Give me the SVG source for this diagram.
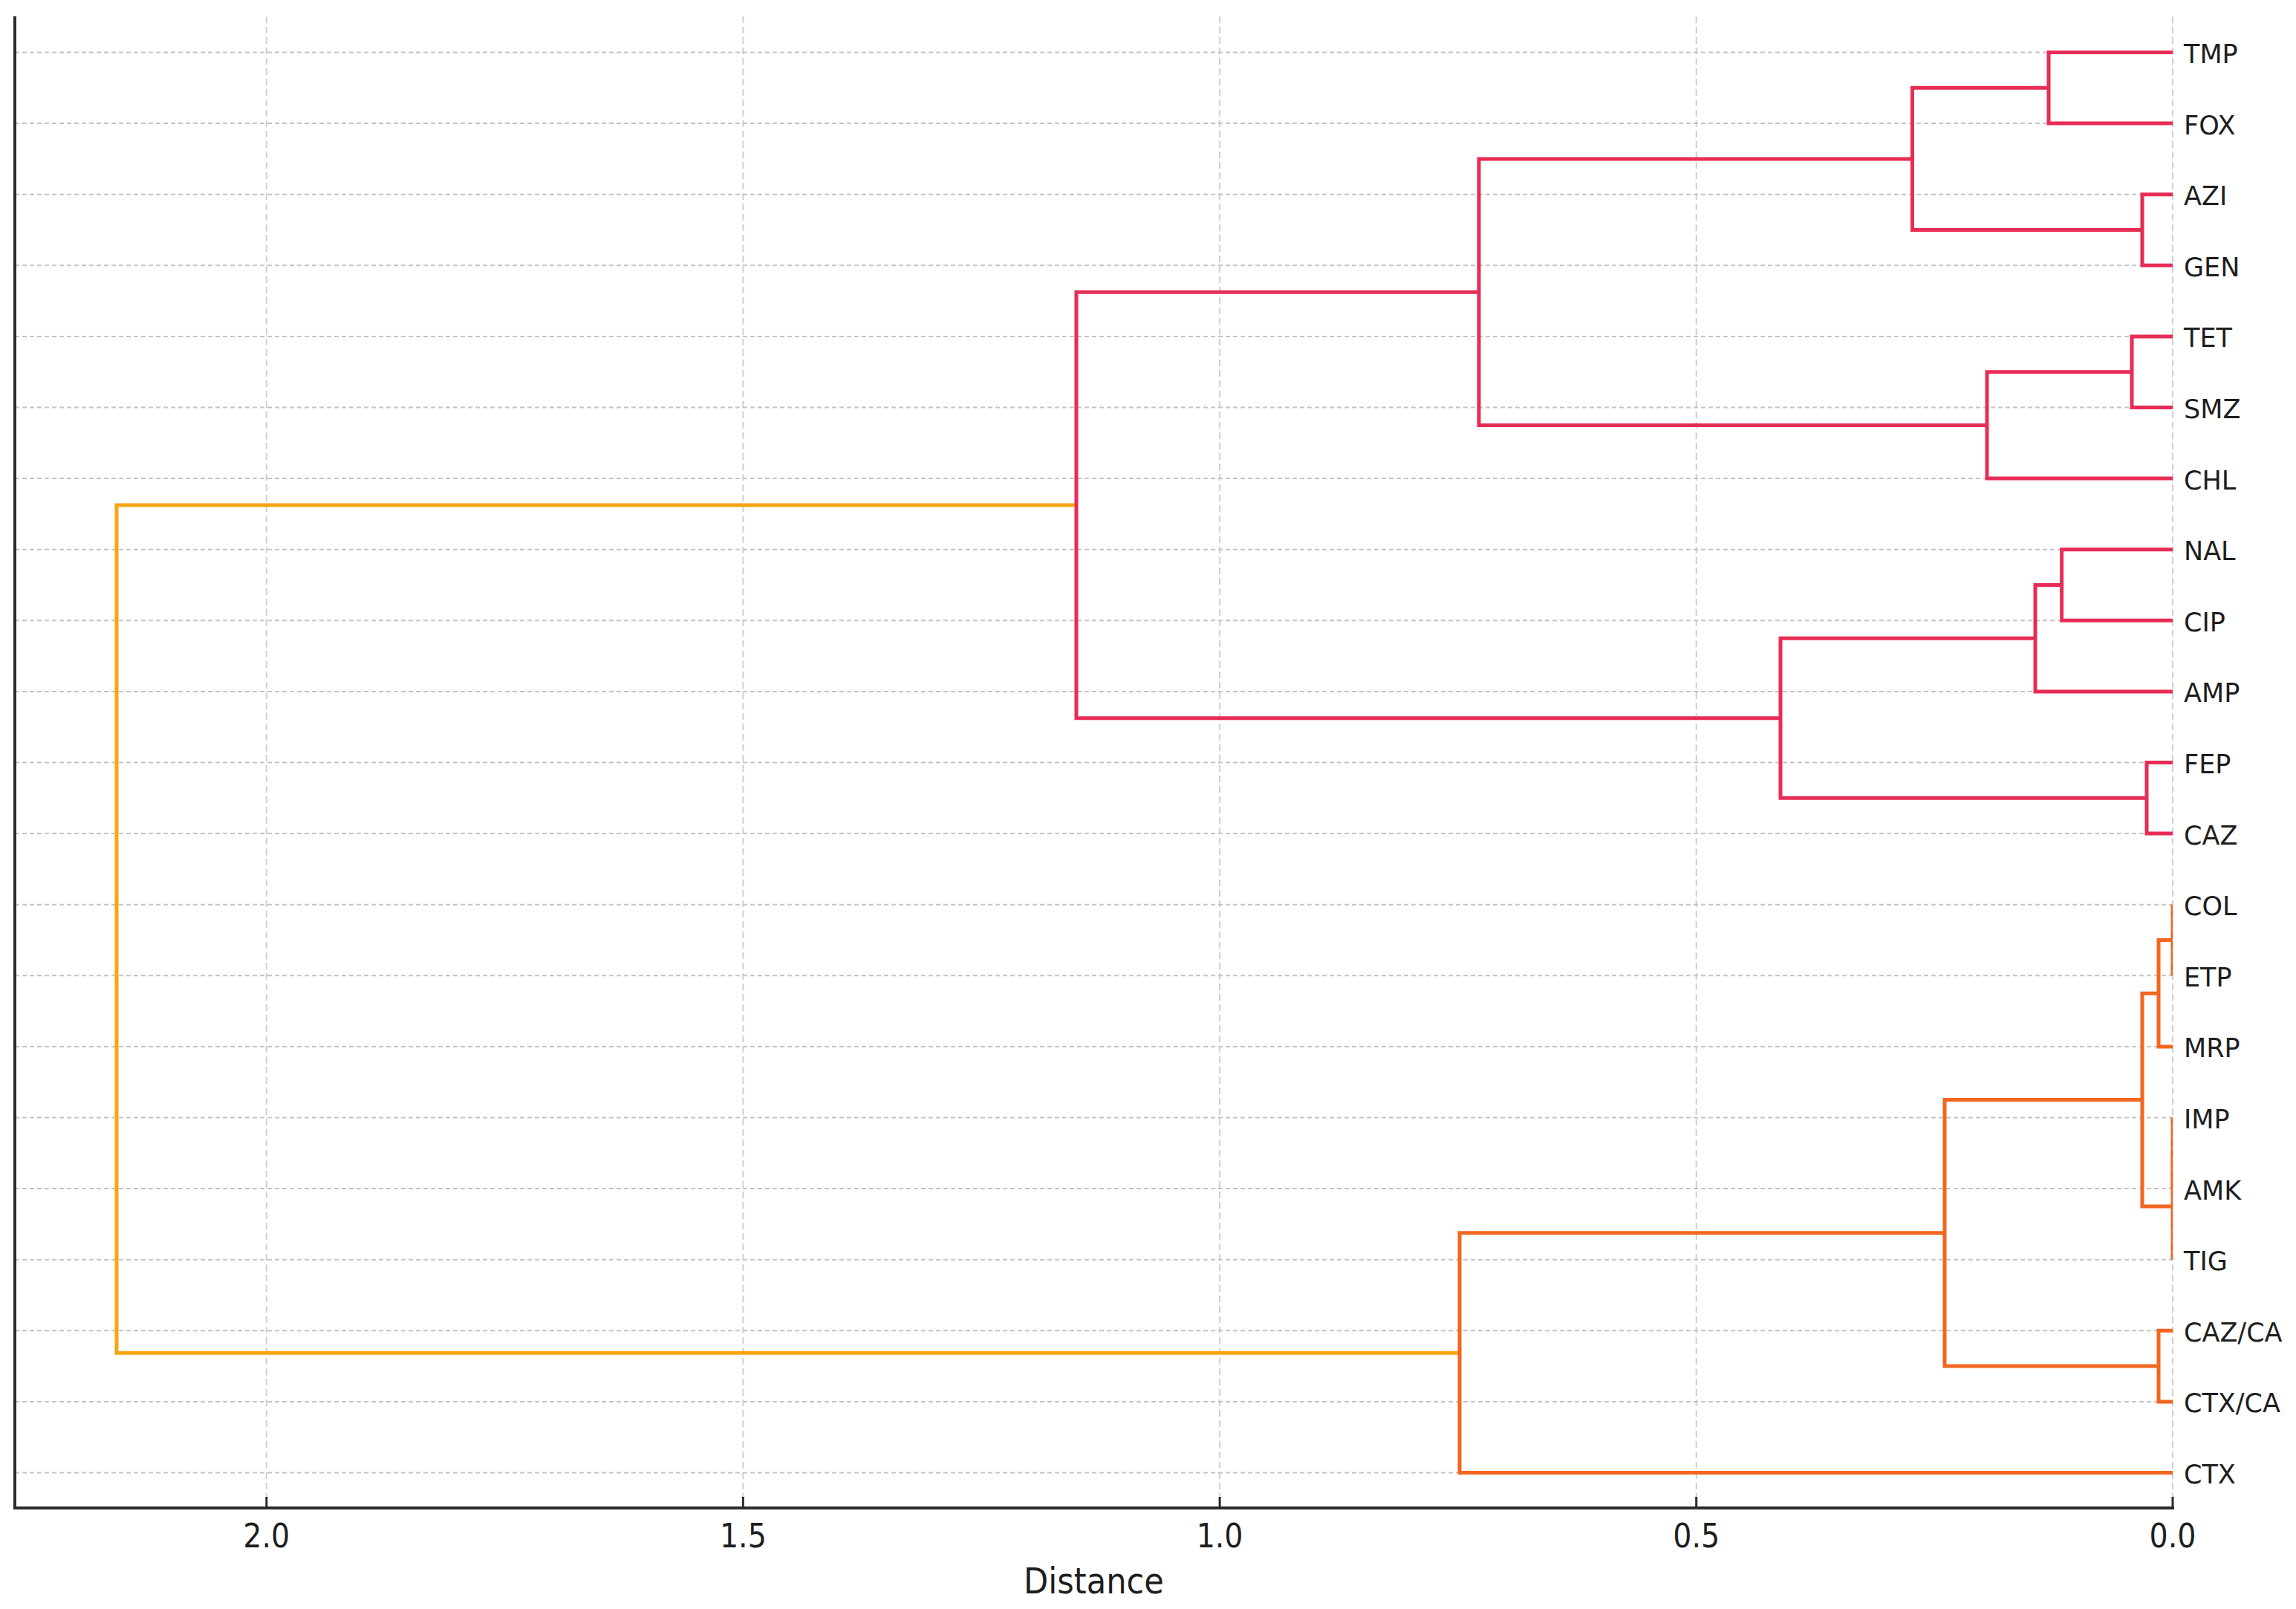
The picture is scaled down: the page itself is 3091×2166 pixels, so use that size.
<svg xmlns="http://www.w3.org/2000/svg" width="3091" height="2166" viewBox="0 0 3091 2166">
  <defs>
    <clipPath id="axclip"><rect x="20" y="22" width="2905" height="2008"/></clipPath>
    <style>
      .hgrid { stroke: #c4c4c4; stroke-width: 2; stroke-dasharray: 6 4; fill: none; }
      .vgrid { stroke: #cfcfcf; stroke-width: 2; stroke-dasharray: 9 5; fill: none; }
      .spine { stroke: #2b2b2b; stroke-width: 4; fill: none; }
      .tick { stroke: #2b2b2b; stroke-width: 3; }
      .link { fill: none; stroke-width: 5; stroke-linejoin: miter; stroke-linecap: butt; }
      .red { stroke: #e72d55; }
      .orange { stroke: #f2661f; }
      .gold { stroke: #f7a511; }
      .leaf { font-family: "DejaVu Sans", "Liberation Sans", sans-serif; font-size: 35px; fill: #1e1e1e; dominant-baseline: central; }
      .ticklbl { font-family: "DejaVu Sans Condensed", "DejaVu Sans", sans-serif; font-stretch: condensed; font-size: 44px; fill: #1e1e1e; text-anchor: middle; }
      .axlbl { font-family: "DejaVu Sans Condensed", "DejaVu Sans", sans-serif; font-stretch: condensed; font-size: 48px; fill: #1e1e1e; text-anchor: middle; }
    </style>
  </defs>
  <rect width="3091" height="2166" fill="#ffffff"/>

  <g id="grid">
    <line class="vgrid" x1="358.8" y1="22" x2="358.8" y2="2030"/>
    <line class="vgrid" x1="1000.4" y1="22" x2="1000.4" y2="2030"/>
    <line class="vgrid" x1="1642.1" y1="22" x2="1642.1" y2="2030"/>
    <line class="vgrid" x1="2283.7" y1="22" x2="2283.7" y2="2030"/>
    <line class="vgrid" x1="2925" y1="22" x2="2925" y2="2030"/>
    <line class="hgrid" x1="20" y1="70.5" x2="2925" y2="70.5"/>
    <line class="hgrid" x1="20" y1="166.1" x2="2925" y2="166.1"/>
    <line class="hgrid" x1="20" y1="261.7" x2="2925" y2="261.7"/>
    <line class="hgrid" x1="20" y1="357.3" x2="2925" y2="357.3"/>
    <line class="hgrid" x1="20" y1="452.9" x2="2925" y2="452.9"/>
    <line class="hgrid" x1="20" y1="548.5" x2="2925" y2="548.5"/>
    <line class="hgrid" x1="20" y1="644.1" x2="2925" y2="644.1"/>
    <line class="hgrid" x1="20" y1="739.7" x2="2925" y2="739.7"/>
    <line class="hgrid" x1="20" y1="835.3" x2="2925" y2="835.3"/>
    <line class="hgrid" x1="20" y1="930.9" x2="2925" y2="930.9"/>
    <line class="hgrid" x1="20" y1="1026.5" x2="2925" y2="1026.5"/>
    <line class="hgrid" x1="20" y1="1122.1" x2="2925" y2="1122.1"/>
    <line class="hgrid" x1="20" y1="1217.7" x2="2925" y2="1217.7"/>
    <line class="hgrid" x1="20" y1="1313.3" x2="2925" y2="1313.3"/>
    <line class="hgrid" x1="20" y1="1408.9" x2="2925" y2="1408.9"/>
    <line class="hgrid" x1="20" y1="1504.5" x2="2925" y2="1504.5"/>
    <line class="hgrid" x1="20" y1="1600.1" x2="2925" y2="1600.1"/>
    <line class="hgrid" x1="20" y1="1695.7" x2="2925" y2="1695.7"/>
    <line class="hgrid" x1="20" y1="1791.3" x2="2925" y2="1791.3"/>
    <line class="hgrid" x1="20" y1="1886.9" x2="2925" y2="1886.9"/>
    <line class="hgrid" x1="20" y1="1982.5" x2="2925" y2="1982.5"/>
  </g>

  <g id="connectors" clip-path="url(#axclip)">
    <path class="link gold" d="M1449,679.95 H157 V1821.2 H1965"/>
    <path class="link red" d="M2925,70.5 H2758 V166.1 H2925"/>
    <path class="link red" d="M2925,261.7 H2884 V357.3 H2925"/>
    <path class="link red" d="M2758,118.3 H2574.5 V309.5 H2884"/>
    <path class="link red" d="M2925,452.9 H2870 V548.5 H2925"/>
    <path class="link red" d="M2870,500.7 H2675 V644.1 H2925"/>
    <path class="link red" d="M2574.5,213.9 H1991 V572.4 H2675"/>
    <path class="link red" d="M2925,739.7 H2775.6 V835.3 H2925"/>
    <path class="link red" d="M2775.6,787.5 H2740 V930.9 H2925"/>
    <path class="link red" d="M2925,1026.5 H2890 V1122.1 H2925"/>
    <path class="link red" d="M2740,859.2 H2397 V1074.3 H2890"/>
    <path class="link red" d="M1991,393.15 H1449 V966.75 H2397"/>
    <path class="link orange" d="M2925,1217.7 V1313.3"/>
    <path class="link orange" d="M2925,1265.5 H2906 V1408.9 H2925"/>
    <path class="link orange" d="M2925,1504.5 V1600.1"/>
    <path class="link orange" d="M2925,1552.3 V1695.7"/>
    <path class="link orange" d="M2906,1337.2 H2884 V1623.95 H2925"/>
    <path class="link orange" d="M2925,1791.3 H2906 V1886.9 H2925"/>
    <path class="link orange" d="M2884,1480.6 H2618 V1839.1 H2906"/>
    <path class="link orange" d="M2618,1659.85 H1965 V1982.5 H2925"/>
  </g>

  <g id="axes">
    <line class="spine" x1="20" y1="22" x2="20" y2="2032"/>
    <line class="spine" x1="18" y1="2030" x2="2927" y2="2030"/>
    <line class="tick" x1="358.8" y1="2015" x2="358.8" y2="2030"/>
    <line class="tick" x1="1000.4" y1="2015" x2="1000.4" y2="2030"/>
    <line class="tick" x1="1642.1" y1="2015" x2="1642.1" y2="2030"/>
    <line class="tick" x1="2283.7" y1="2015" x2="2283.7" y2="2030"/>
    <line class="tick" x1="2925" y1="2015" x2="2925" y2="2030"/>
    <text class="ticklbl" x="358.8" y="2083">2.0</text>
    <text class="ticklbl" x="1000.4" y="2083">1.5</text>
    <text class="ticklbl" x="1642.1" y="2083">1.0</text>
    <text class="ticklbl" x="2283.7" y="2083">0.5</text>
    <text class="ticklbl" x="2925" y="2083">0.0</text>
    <text class="axlbl" x="1472.5" y="2145">Distance</text>
  </g>

  <g id="leaves">
    <g id="leaf-TMP"><text class="leaf" x="2940" y="73">TMP</text></g>
    <g id="leaf-FOX"><text class="leaf" x="2940" y="168.6">FOX</text></g>
    <g id="leaf-AZI"><text class="leaf" x="2940" y="264.2">AZI</text></g>
    <g id="leaf-GEN"><text class="leaf" x="2940" y="359.8">GEN</text></g>
    <g id="leaf-TET"><text class="leaf" x="2940" y="455.4">TET</text></g>
    <g id="leaf-SMZ"><text class="leaf" x="2940" y="551">SMZ</text></g>
    <g id="leaf-CHL"><text class="leaf" x="2940" y="646.6">CHL</text></g>
    <g id="leaf-NAL"><text class="leaf" x="2940" y="742.2">NAL</text></g>
    <g id="leaf-CIP"><text class="leaf" x="2940" y="837.8">CIP</text></g>
    <g id="leaf-AMP"><text class="leaf" x="2940" y="933.4">AMP</text></g>
    <g id="leaf-FEP"><text class="leaf" x="2940" y="1029">FEP</text></g>
    <g id="leaf-CAZ"><text class="leaf" x="2940" y="1124.6">CAZ</text></g>
    <g id="leaf-COL"><text class="leaf" x="2940" y="1220.2">COL</text></g>
    <g id="leaf-ETP"><text class="leaf" x="2940" y="1315.8">ETP</text></g>
    <g id="leaf-MRP"><text class="leaf" x="2940" y="1411.4">MRP</text></g>
    <g id="leaf-IMP"><text class="leaf" x="2940" y="1507">IMP</text></g>
    <g id="leaf-AMK"><text class="leaf" x="2940" y="1602.6">AMK</text></g>
    <g id="leaf-TIG"><text class="leaf" x="2940" y="1698.2">TIG</text></g>
    <g id="leaf-CAZCA"><text class="leaf" x="2940" y="1793.8">CAZ/CA</text></g>
    <g id="leaf-CTXCA"><text class="leaf" x="2940" y="1889.4">CTX/CA</text></g>
    <g id="leaf-CTX"><text class="leaf" x="2940" y="1985">CTX</text></g>
  </g>
</svg>
